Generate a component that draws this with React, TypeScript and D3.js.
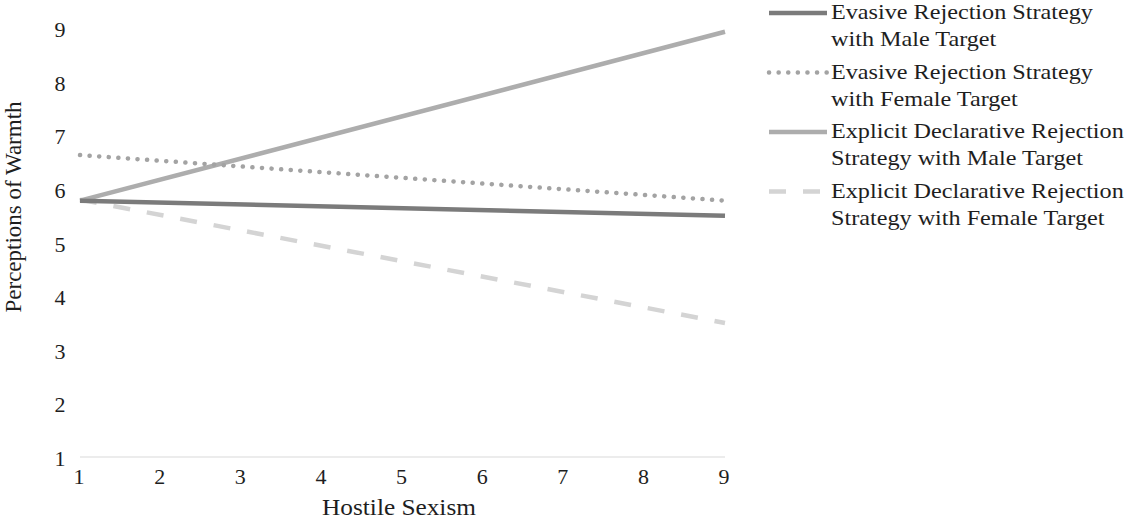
import React from "react";
import * as d3 from "d3";

const xValues = [1, 9];
const xTicks = [1, 2, 3, 4, 5, 6, 7, 8, 9];
const yTicks = [1, 2, 3, 4, 5, 6, 7, 8, 9];

const evasiveMale = [5.78, 5.5];
const evasiveFemale = [6.63, 5.78];
const explicitMale = [5.78, 8.93];
const explicitFemale = [5.8, 3.5];

const seriesNames = [
  ["Evasive Rejection Strategy", "with Male Target"],
  ["Evasive Rejection Strategy", "with Female Target"],
  ["Explicit Declarative Rejection", "Strategy with Male Target"],
  ["Explicit Declarative Rejection", "Strategy with Female Target"],
];

const W = 1126;
const H = 519;
const font = "'Liberation Serif', 'Times New Roman', serif";
const sx = 1.1; // the source picture is a bit wider than tall

const styles = [
  { color: "#7b7b7b", dash: "", cap: "butt" },
  { color: "#a3a3a3", dash: "0.1 9.5", cap: "round" },
  { color: "#adadad", dash: "", cap: "butt" },
  { color: "#d4d4d4", dash: "17 17", cap: "butt" },
];

const Txt = ({ x, y, size, anchor = "start", children }: any) => (
  <text
    transform={`translate(${x},${y}) scale(${sx},1)`}
    fontSize={size}
    textAnchor={anchor}
    fill="#1e1e1e"
  >
    {children}
  </text>
);

export default function App() {
  const x = d3.scaleLinear().domain([1, 9]).range([80, 725]);
  const y = d3.scaleLinear().domain([1, 9]).range([457, 28]);

  const line = d3
    .line<number>()
    .x((_, i) => x(xValues[i]))
    .y((d) => y(d));

  const series = [evasiveMale, evasiveFemale, explicitMale, explicitFemale];

  // light ones first so the dark line sits on top
  const drawOrder = [3, 2, 1, 0];

  return (
    <svg
      width={W}
      height={H}
      style={{ position: "absolute", left: 0, top: 0, background: "#fff" }}
      fontFamily={font}
    >
      <line x1={x(1)} x2={x(9)} y1={y(1)} y2={y(1)} stroke="#d9d9d9" strokeWidth={1} />

      {yTicks.map((t) => (
        <Txt key={"y" + t} x={60} y={y(t) + 9} size={20} anchor="middle">
          {t}
        </Txt>
      ))}

      {xTicks.map((t) => (
        <Txt key={"x" + t} x={x(t) - 1} y={484} size={20} anchor="middle">
          {t}
        </Txt>
      ))}

      <Txt x={399} y={515} size={23} anchor="middle">
        Hostile Sexism
      </Txt>
      <text
        transform={`translate(21,207) rotate(-90)`}
        fontSize={23}
        textAnchor="middle"
        fill="#1e1e1e"
      >
        Perceptions of Warmth
      </text>

      {drawOrder.map((i) => (
        <path
          key={"s" + i}
          d={line(series[i]) || ""}
          fill="none"
          stroke={styles[i].color}
          strokeWidth={4.5}
          strokeDasharray={styles[i].dash || undefined}
          strokeLinecap={styles[i].cap as any}
        />
      ))}

      {seriesNames.map((name, i) => {
        const top = 13 + i * 59.5;
        return (
          <g key={"l" + i}>
            <line
              x1={769}
              x2={827}
              y1={top}
              y2={top}
              stroke={styles[i].color}
              strokeWidth={4.5}
              strokeDasharray={styles[i].dash || undefined}
              strokeLinecap={styles[i].cap as any}
            />
            {name.map((t, j) => (
              <Txt key={j} x={831} y={top + 6 + j * 27} size={22}>
                {t}
              </Txt>
            ))}
          </g>
        );
      })}
    </svg>
  );
}
